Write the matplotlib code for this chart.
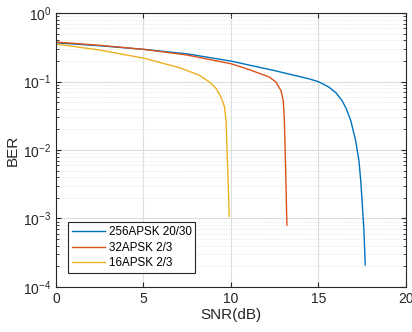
import numpy as np
from matplotlib import pyplot as plt
from matplotlib.ticker import LogLocator, NullFormatter

plt.rcParams['font.family'] = ['Liberation Sans', 'DejaVu Sans']

# BER curves
snr_256 = [0, 2.5, 5, 7.5, 10, 12.5, 14.47, 15.0, 15.61, 16.0, 16.35, 16.6, 16.85, 17.13, 17.32, 17.42, 17.5, 17.6, 17.68]
ber_256 = [0.37, 0.335, 0.297, 0.255, 0.20, 0.145, 0.11, 0.10, 0.083, 0.069, 0.053, 0.040, 0.027, 0.0138, 0.0070, 0.0036, 0.0018, 0.0007, 0.00021]

snr_32 = [0, 2.5, 5, 7.5, 10, 11.05, 12.19, 12.57, 12.86, 12.99, 13.05, 13.1, 13.15, 13.2]
ber_32 = [0.38, 0.34, 0.297, 0.245, 0.183, 0.15, 0.117, 0.099, 0.074, 0.053, 0.030, 0.010, 0.003, 0.0008]

snr_16 = [0, 2.5, 5, 7.07, 8.2, 8.77, 9.16, 9.44, 9.63, 9.72, 9.76, 9.82, 9.87, 9.9]
ber_16 = [0.355, 0.29, 0.221, 0.16, 0.124, 0.099, 0.079, 0.059, 0.043, 0.027, 0.0138, 0.005, 0.002, 0.00107]

labels = ['256APSK 20/30', '32APSK 2/3', '16APSK 2/3']
colors = ['#0072BD', '#D95319', '#EDB120']

fig = plt.figure(figsize=(4.12, 3.32), dpi=100)
ax = fig.add_axes([0.136, 0.136, 0.849, 0.824])

ax.semilogy(snr_256, ber_256, color=colors[0], lw=1, label=labels[0])
ax.semilogy(snr_32, ber_32, color=colors[1], lw=1, label=labels[1])
ax.semilogy(snr_16, ber_16, color=colors[2], lw=1, label=labels[2])

ax.set_xlim(0, 20)
ax.set_ylim(1e-4, 1)
ax.set_xticks([0, 5, 10, 15, 20])
ax.yaxis.set_major_locator(LogLocator(base=10, numticks=10))
ax.yaxis.set_minor_locator(LogLocator(base=10, subs=np.arange(2, 10), numticks=20))
ax.yaxis.set_minor_formatter(NullFormatter())

ax.grid(True, which='major', color='#dddddd', lw=0.8)
ax.grid(True, which='minor', axis='y', color='#dddddd', lw=0.6, linestyle=(0, (1, 2)))
ax.set_axisbelow(True)

ax.tick_params(which='both', direction='in', top=True, right=True, labelsize=10, colors='#262626')
ax.tick_params(which='major', length=3.5)
ax.tick_params(which='minor', length=2)
for sp in ax.spines.values():
    sp.set_color('#262626')
    sp.set_linewidth(0.8)

ax.set_xlabel('SNR(dB)', fontsize=11, color='#262626', labelpad=2)
ax.set_ylabel('BER', fontsize=11, color='#262626', labelpad=2)

leg = ax.legend(loc='lower left', bbox_to_anchor=(0.035, 0.05), fontsize=8.4, fancybox=False,
                framealpha=1, edgecolor='#262626', borderpad=0.35, labelspacing=0.3,
                handlelength=2.8, handletextpad=0.3, borderaxespad=0)
leg.get_frame().set_linewidth(0.8)

fig.savefig('out.png', dpi=100)
